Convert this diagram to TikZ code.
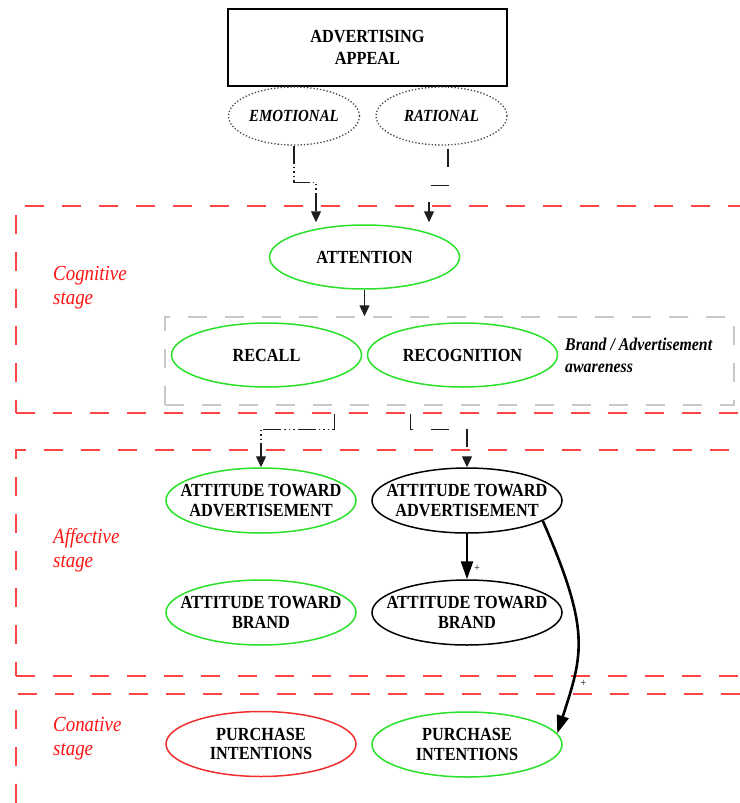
\documentclass[tikz,border=0pt]{standalone}
\usepackage{fontspec}
\setmainfont[FakeStretch=0.88]{Liberation Serif}
\usetikzlibrary{shapes.geometric,arrows.meta,calc}
\definecolor{gr}{RGB}{40,225,40}
\definecolor{rd}{RGB}{240,45,45}
\definecolor{stagec}{RGB}{255,70,70}
\definecolor{grayboxc}{RGB}{200,200,200}
\definecolor{connc}{RGB}{30,30,30}
\definecolor{dotc}{RGB}{70,70,70}
\definecolor{labred}{RGB}{255,20,20}
\begin{document}
\begin{tikzpicture}[x=1pt,y=-1pt,
  nodefont/.style={font=\fontsize{18.5}{19.5}\selectfont\bfseries, align=center},
  ell/.style={ellipse, draw, line width=1.5pt, minimum width=190pt, minimum height=65pt, inner xsep=-25pt, inner ysep=0pt, nodefont},
  greenell/.style={ell, draw=gr},
  blackell/.style={ell, draw=black},
  redell/.style={ell, draw=rd},
  dotell/.style={ellipse, draw=dotc, dotted, line width=1.3pt, minimum width=131pt, minimum height=58pt, inner xsep=-20pt, inner ysep=0pt, font=\fontsize{17}{18}\selectfont\bfseries\itshape},
  stagebox/.style={draw=stagec, line width=1.6pt, dash pattern=on 19pt off 18pt, rectangle, anchor=north west, inner sep=0pt},
  stagelabel/.style={text=labred, font=\fontsize{21.5}{24}\selectfont\itshape, align=left, anchor=north west, inner sep=0pt},
  conn/.style={draw=connc, line width=1.3pt, -{Triangle[length=11pt,width=10pt]}},
  dashdotdot/.style={dash pattern=on 18pt off 3pt on 1.5pt off 3pt on 1.5pt off 3pt on 1.5pt off 3pt},
  dashedc/.style={dash pattern=on 18pt off 18pt},
  thickconn/.style={draw=black, line width=2.6pt, -{Triangle[length=18pt,width=12pt]}},
  plus/.style={font=\fontsize{11}{11}\selectfont, inner sep=1pt}
]
\useasboundingbox (0,0) rectangle (739,803);

% stage regions
\node[stagebox, minimum width=780pt, minimum height=207pt] (cog) at (15,205) {};
\node[stagebox, minimum width=780pt, minimum height=226pt] (aff) at (15,449) {};
\node[stagebox, minimum width=780pt, minimum height=200pt] (con) at (15,693) {};

\node[stagelabel] (cogl) at (53,266.5) {Cognitive\\stage};
\node[stagelabel] (affl) at (53,528.5) {Affective\\stage};
\node[stagelabel] (conl) at (53,717.5) {Conative\\stage};

% awareness box
\node[draw=grayboxc, line width=1.5pt, dash pattern=on 19pt off 18pt, minimum width=569pt, minimum height=88pt, inner sep=0pt] (aw) at (449.5,361) {};
\node[font=\fontsize{18}{22}\selectfont\bfseries\itshape, align=left, anchor=north west, inner sep=0pt] (awtxt) at (565,337.5) {Brand / Advertisement\\awareness};

% top
\node[draw, line width=1.5pt, minimum width=279pt, minimum height=77pt, font=\fontsize{18.5}{22}\selectfont\bfseries, align=center] (appeal) at (367.5,47.5) {ADVERTISING\\APPEAL};
\node[dotell] (emo) at (294,116) {EMOTIONAL};
\node[dotell] (rat) at (441.5,116) {RATIONAL};

% cognitive
\node[greenell, minimum height=64pt] (att) at (364.5,257) {ATTENTION};
\node[greenell, minimum height=64pt] (rec) at (266.5,355) {RECALL};
\node[greenell, minimum height=64pt] (recog) at (462.5,355) {RECOGNITION};

% affective
\node[greenell] (adv1) at (261,500.5) {ATTITUDE TOWARD\\ADVERTISEMENT};
\node[blackell] (adv2) at (467,500.5) {ATTITUDE TOWARD\\ADVERTISEMENT};
\node[greenell] (br1) at (261,612.5) {ATTITUDE TOWARD\\BRAND};
\node[blackell] (br2) at (467,612.5) {ATTITUDE TOWARD\\BRAND};

% conative
\node[redell] (pi1) at (261,744) {PURCHASE\\INTENTIONS};
\node[greenell] (pi2) at (467,744.5) {PURCHASE\\INTENTIONS};

% connectors
\draw[conn, dashdotdot] (emo.south) |- ($(att.north)+(-48.5,-42)$) -- ($(att.north)+(-48.5,-2)$);
\draw[conn, dashedc] ($(rat.south)+(6.5,3)$) |- ($(att.north)+(64.5,-39)$) -- ($(att.north)+(64.5,-2)$);
\draw[conn] (att.south) -- (att.south |- aw.north);
\draw[conn, dashdotdot] ([xshift=-71pt]cog.south) |- ($(adv1.north)+(0,-38)$) -- (adv1.north);
\draw[conn, dashedc] ([xshift=5pt]cog.south) |- ($(adv2.north)+(0,-38)$) -- (adv2.north);
\draw[thickconn] (adv2.south) -- node[pos=0.77, right=5pt, plus] (p1) {+} (br2.north);
\draw[thickconn] (adv2.-15) .. controls +(48,110) and +(26,-80) .. node[pos=0.76, right=6pt, plus] (p2) {+} (pi2.7);
\end{tikzpicture}
\end{document}
